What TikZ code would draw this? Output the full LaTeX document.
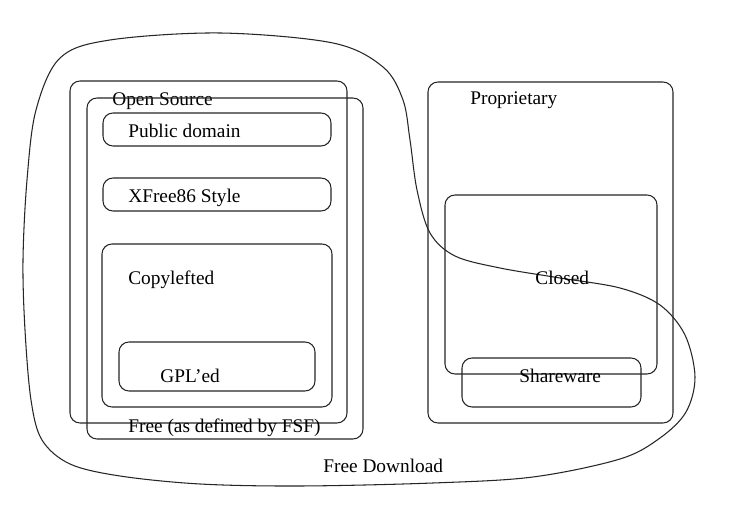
\documentclass[tikz,border=0pt]{standalone}
\usepackage{fontspec}
\setmainfont{Liberation Serif}
\tikzset{
  setbox/.style={draw=black!85, line width=0.6pt, rounded corners=0.2cm},
  setlabel/.style={anchor=base west, inner sep=0pt, font=\fontsize{11}{13}\selectfont}
}

\begin{document}
\begin{tikzpicture}
  \filldraw[fill=white, draw=none] (0cm,0cm) rectangle (14.92cm,-10.2cm);
  % free download blob
  \draw[draw=black!85, line width=0.6pt] plot[smooth cycle, tension=0.55] coordinates {
    (4.4,-0.66) (6.66,-0.86) (7.66,-1.34) (8.06,-2.0) (8.2,-2.8) (8.34,-3.8)
    (8.6,-4.66) (9.1,-5.12) (10.0,-5.36) (11.2,-5.56) (12.4,-5.76) (13.2,-6.1)
    (13.7,-6.7) (13.9,-7.54) (13.72,-8.24) (13.2,-8.76) (12.4,-9.18) (10.66,-9.54)
    (8.66,-9.66) (6.0,-9.72) (4.0,-9.68) (2.4,-9.52) (1.4,-9.28) (0.84,-8.8)
    (0.62,-8.0) (0.5,-6.6) (0.46,-5.2) (0.54,-3.6) (0.72,-2.2) (1.2,-1.16) (2.2,-0.8)};
  \node[setlabel] (freedl) at (6.46cm,-9.46cm) {Free Download};
  % open source / free
  \draw[setbox] (1.4cm,-1.62cm) rectangle (6.94cm,-8.46cm);
  \node[setlabel] (opensrc) at (2.24cm,-2.12cm) {Open Source};
  \draw[setbox] (1.74cm,-1.96cm) rectangle (7.26cm,-8.78cm);
  \node[setlabel] (freefsf) at (2.56cm,-8.66cm) {Free (as defined by FSF)};
  \draw[setbox] (2.06cm,-2.26cm) rectangle (6.62cm,-2.92cm);
  \node[setlabel] (pubdom) at (2.56cm,-2.76cm) {Public domain};
  \draw[setbox] (2.06cm,-3.56cm) rectangle (6.62cm,-4.22cm);
  \node[setlabel] (xfree) at (2.56cm,-4.06cm) {XFree86 Style};
  \draw[setbox] (2.04cm,-4.88cm) rectangle (6.64cm,-8.14cm);
  \node[setlabel] (copyleft) at (2.56cm,-5.7cm) {Copylefted};
  \draw[setbox] (2.38cm,-6.84cm) rectangle (6.3cm,-7.82cm);
  \node[setlabel] (gpl) at (3.2cm,-7.66cm) {GPL'ed};
  % proprietary side
  \draw[setbox] (8.56cm,-1.64cm) rectangle (13.46cm,-8.46cm);
  \node[setlabel] (propr) at (9.4cm,-2.1cm) {Proprietary};
  \draw[setbox] (8.9cm,-3.9cm) rectangle (13.14cm,-7.48cm);
  \node[setlabel] (closed) at (10.7cm,-5.7cm) {Closed};
  \draw[setbox] (9.24cm,-7.16cm) rectangle (12.82cm,-8.14cm);
  \node[setlabel] (share) at (10.38cm,-7.66cm) {Shareware};
\end{tikzpicture}
\end{document}
